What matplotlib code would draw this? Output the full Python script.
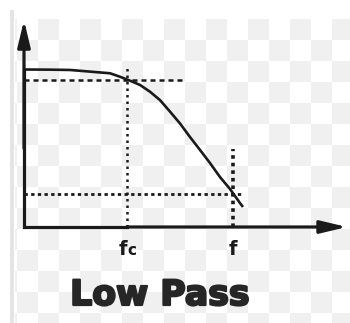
import matplotlib
matplotlib.use("Agg")
import matplotlib.pyplot as plt
import matplotlib.patheffects as pe
import numpy as np

# response curve (x: f / fc, y: gain / passband gain)
freq = [0.0, 0.252, 0.447, 0.689, 0.835, 0.932, 1.029, 1.126, 1.223, 1.320,
        1.417, 1.515, 1.612, 1.709, 1.806, 1.903, 2.000, 2.097, 2.126]
gain = [1.0, 0.999, 0.997, 0.984, 0.976, 0.954, 0.929, 0.902, 0.859, 0.806,
        0.733, 0.657, 0.571, 0.489, 0.406, 0.317, 0.241, 0.152, 0.127]

fc = 1.0
fc_gain = 0.933
fc_guide_end = 1.534
f_mark = 2.029
f_gain = 0.2095
f_guide_end = 2.126
f_guide_top = 0.495
fc_guide_top = 1.016

ink = "#1a1a1a"

fig = plt.figure(figsize=(3.5, 3.23), dpi=100)

# checkerboard background (pixel coords)
bg = fig.add_axes([0, 0, 1, 1])
bg.axis("off")
cols = np.arange(-1, 17)
rows = np.arange(-1, 14)
board = (rows[:, None] + cols[None, :]) % 2 == 0
bg.imshow(np.where(board, 0.94, 1.0), cmap="gray", vmin=0, vmax=1,
          extent=(17 - 21, 17 + 21 * 17, 40 + 21 * 14, 40 - 21),
          interpolation="nearest", aspect="auto")
bg.fill_between([0, 15], 0, 323, color="white", lw=0)
bg.fill_between([0, 350], 0, 19, color="white", lw=0)
bg.fill_between([10, 14], 10, 323, color="#e4e4e4", lw=0)
bg.set_xlim(0, 350)
bg.set_ylim(323, 0)

# chart axes, origin at pixel (24, 227)
ax = fig.add_axes([0, 0, 1, 1])
ax.patch.set_alpha(0)
ax.axis("off")
ax.set_xlim(-24 / 103, 326 / 103)
ax.set_ylim(-96 / 157.5, 227 / 157.5)

arrow = dict(arrowstyle="-|>,head_length=1.6,head_width=0.38", lw=2.3,
             color=ink, mutation_scale=10, shrinkA=0, shrinkB=0)
ax.plot([0, 0, 1.0], [1.0, 0, 0], color=ink, lw=2.3, solid_joinstyle="miter")
ax.annotate("", xy=(0, 1.314), xytext=(0, 0.5), arrowprops=arrow)
ax.annotate("", xy=(3.136, 0), xytext=(1.0, 0), arrowprops=arrow)

ax.plot([0, fc_guide_end], [fc_gain, fc_gain], color=ink, lw=1.8, ls=(0, (2, 1.6)))
ax.plot([fc, fc], [0, fc_guide_top], color=ink, lw=1.8, ls=(0, (1, 1.6)))
ax.plot([0, f_guide_end], [f_gain, f_gain], color=ink, lw=2.0, ls=(0, (1.2, 1.2)))
ax.plot([f_mark, f_mark], [0, f_guide_top], color=ink, lw=2.6, ls=(0, (1, 1.1)))

ax.plot(freq, gain, color=ink, lw=1.9, solid_capstyle="butt")

ax.text(fc - 0.04, -0.178, "f", fontsize=14, fontweight="bold", color=ink,
        ha="center", va="baseline")
ax.text(fc + 0.05, -0.178, "c", fontsize=11, fontweight="bold", color=ink,
        ha="center", va="baseline")
ax.text(f_mark, -0.178, "f", fontsize=14, fontweight="bold", color=ink,
        ha="center", va="baseline")

fig.text(160 / 350, 18 / 323, "Low Pass", fontsize=25, fontweight="heavy",
         color="#262626", ha="center", va="baseline",
         path_effects=[pe.withStroke(linewidth=1.6, foreground="#262626")])

fig.savefig("out.png", dpi=100)
